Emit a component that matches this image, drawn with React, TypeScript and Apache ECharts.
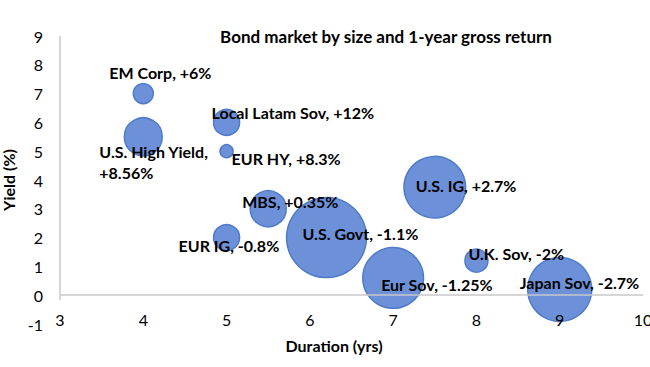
import React, { useEffect, useRef } from "react";
import * as echarts from "echarts";

// ---- data ----
const names = [
  "EM Corp",
  "U.S. High Yield",
  "Local Latam Sov",
  "EUR HY",
  "MBS",
  "EUR IG",
  "U.S. Govt",
  "U.S. IG",
  "Eur Sov",
  "U.K. Sov",
  "Japan Sov",
];
const returns = ["+6%", "+8.56%", "+12%", "+8.3%", "+0.35%", "-0.8%", "-1.1%", "+2.7%", "-1.25%", "-2%", "-2.7%"];
const duration = [4, 4, 5, 5, 5.5, 5, 6.2, 7.5, 7, 8, 9];
const yieldPct = [7, 5.5, 6, 5, 3, 2, 2, 3.75, 0.6, 1.2, 0.2];
const marketSize = [4, 14.4, 6.8, 1.7, 13, 6.8, 64, 38, 37, 5.3, 41];
const xTicks = { min: 3, max: 10, interval: 1 };
const yTicks = { min: -1, max: 9, interval: 1 };

// ---- label layout (style, not data): left edge / vertical centre relative to bubble centre ----
const labelOffsets: [number, number][] = [
  [-34, -21],
  [-44, 25],
  [-15, -10],
  [5, 7],
  [-26, -7],
  [-48, 8],
  [-24, -4],
  [-19, -2],
  [-12, 7],
  [-8, -7],
  [-40, -7],
];
const wrapAfterName = new Set(["U.S. High Yield"]);

const FONT = "Lato, 'Noto Sans', sans-serif";

export default function App() {
  const ref = useRef<HTMLDivElement>(null);
  useEffect(() => {
    if (!ref.current) return;
    const chart = echarts.init(ref.current, undefined, { renderer: "svg" });
    const data = names.map((n, i) => ({
      name: n,
      value: [duration[i], yieldPct[i], marketSize[i]],
    }));
    chart.setOption({
      animation: false,
      textStyle: { fontFamily: FONT },
      grid: { left: 60, top: 36, right: 7, bottom: 43, containLabel: false, outerBoundsMode: "none" },
      graphic: [
        {
          type: "text",
          x: 386,
          y: 36,
          style: {
            text: "Bond market by size and 1-year gross return",
            font: `bold 17px ${FONT}`,
            fill: "#000",
            textAlign: "center",
            textVerticalAlign: "middle",
          },
        },
        {
          type: "text",
          x: 334,
          y: 345,
          style: {
            text: "Duration (yrs)",
            font: `bold 16px ${FONT}`,
            fill: "#000",
            textAlign: "center",
            textVerticalAlign: "middle",
          },
        },
      ],
      xAxis: {
        type: "value",
        z: 5,
        min: xTicks.min,
        max: xTicks.max,
        interval: xTicks.interval,
        axisLine: { show: false },
        axisTick: { show: false },
        splitLine: { show: false },
        axisLabel: { color: "#000", fontSize: 16, margin: -13, fontFamily: FONT },
      },
      yAxis: {
        type: "value",
        min: yTicks.min,
        max: yTicks.max,
        interval: yTicks.interval,
        axisLine: { show: false },
        axisTick: { show: false },
        splitLine: { show: false },
        axisLabel: { color: "#000", fontSize: 16, margin: 17, fontFamily: FONT },
        name: "Yield (%)",
        nameLocation: "middle",
        nameRotate: 90,
        nameGap: 41,
        nameTextStyle: { color: "#000", fontSize: 16, fontWeight: "bold", fontFamily: FONT },
      },
      series: [
        {
          type: "scatter",
          data: [],
          z: 1,
          markLine: {
            silent: true,
            symbol: "none",
            animation: false,
            label: { show: false },
            lineStyle: { color: "#c8c8c8", width: 1.5, type: "solid" },
            data: [
              [{ coord: [xTicks.min, 0] }, { coord: [xTicks.max, 0] }],
              [{ coord: [xTicks.min, yTicks.max] }, { coord: [xTicks.min, -0.17] }],
            ],
          },
        },
        {
          type: "scatter",
          z: 2,
          data,
          symbolSize: (v: number[]) => 10 * Math.sqrt(v[2]),
          itemStyle: {
            color: "#6d91d8",
            borderColor: "#4f7bca",
            borderWidth: 1.5,
            opacity: 1,
          },
          label: {
            show: true,
            position: "inside",
            align: "left",
            verticalAlign: "middle",
            color: "#000",
            fontSize: 16,
            fontWeight: "bold",
            fontFamily: FONT,
            lineHeight: 21,
            formatter: (p: any) => {
              const i = p.dataIndex;
              const sep = wrapAfterName.has(names[i]) ? ",\n" : ", ";
              return `${names[i]}${sep}${returns[i]}`;
            },
          },
          labelLayout: (p: any) => ({
            dx: labelOffsets[p.dataIndex][0],
            dy: labelOffsets[p.dataIndex][1],
            hideOverlap: false,
          }),
        },
      ],
    });
    return () => chart.dispose();
  }, []);
  return <div ref={ref} style={{ width: 650, height: 367, position: "absolute", left: 0, top: 0 }} />;
}
